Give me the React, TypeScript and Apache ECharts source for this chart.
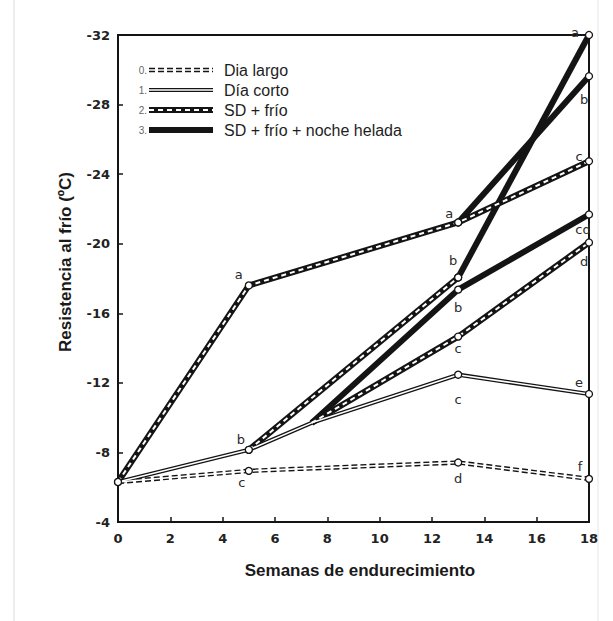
import React, { useEffect, useRef } from "react";
import * as echarts from "echarts";

// Weeks of hardening and frost resistance (ºC) for each treatment branch.
// null in a letter list = bend in the line without a measured point.
const WEEKS_LARGO = [0, 5, 13, 18];
const LARGO = [-6.3, -6.94, -7.42, -6.48];
const LARGO_LETTERS = ["", "c", "d", "f"];

const WEEKS_CORTO = [0, 5, 7.4, 13, 18];
const CORTO = [-6.3, -8.15, -9.7, -12.47, -11.36];
const CORTO_LETTERS = ["", "b", null, "c", "e"];

const WEEKS_FRIO_0 = [0, 5, 13, 18];
const FRIO_0 = [-6.3, -17.6, -21.22, -24.74];
const FRIO_0_LETTERS = ["", "a", "a", "c"];

const WEEKS_FRIO_5 = [5, 13];
const FRIO_5 = [-8.15, -18.06];
const FRIO_5_LETTERS = ["", "b"];

const WEEKS_FRIO_7 = [7.4, 13, 18];
const FRIO_7 = [-9.7, -14.66, -20.07];
const FRIO_7_LETTERS = [null, "c", "d"];

const WEEKS_HELADA_7 = [7.4, 13, 18];
const HELADA_7 = [-9.7, -17.36, -21.68];
const HELADA_7_LETTERS = [null, "b", "cd"];

const WEEKS_HELADA_13A = [13, 18];
const HELADA_13A = [-21.22, -29.63];
const HELADA_13A_LETTERS = ["", "b"];

const WEEKS_HELADA_13B = [13, 18];
const HELADA_13B = [-18.06, -32];
const HELADA_13B_LETTERS = ["", "a"];

const LEGEND_NUMBERS = ["0.", "1.", "2.", "3."];
const LEGEND_NAMES = ["Dia largo", "Día corto", "SD + frío", "SD + frío + noche helada"];

const X_NAME = "Semanas de endurecimiento";
const Y_NAME = "Resistencia al frío (ºC)";

type Kind = "largo" | "corto" | "frio" | "helada";

const LINES: { key: string; kind: Kind; weeks: number[]; values: number[]; letters: (string | null)[] }[] = [
  { key: "largo", kind: "largo", weeks: WEEKS_LARGO, values: LARGO, letters: LARGO_LETTERS },
  { key: "corto", kind: "corto", weeks: WEEKS_CORTO, values: CORTO, letters: CORTO_LETTERS },
  { key: "frio0", kind: "frio", weeks: WEEKS_FRIO_0, values: FRIO_0, letters: FRIO_0_LETTERS },
  { key: "frio5", kind: "frio", weeks: WEEKS_FRIO_5, values: FRIO_5, letters: FRIO_5_LETTERS },
  { key: "frio7", kind: "frio", weeks: WEEKS_FRIO_7, values: FRIO_7, letters: FRIO_7_LETTERS },
  { key: "helada7", kind: "helada", weeks: WEEKS_HELADA_7, values: HELADA_7, letters: HELADA_7_LETTERS },
  { key: "helada13a", kind: "helada", weeks: WEEKS_HELADA_13A, values: HELADA_13A, letters: HELADA_13A_LETTERS },
  { key: "helada13b", kind: "helada", weeks: WEEKS_HELADA_13B, values: HELADA_13B, letters: HELADA_13B_LETTERS },
];

// Where each letter sits relative to its point (px).
const LETTER_OFFSETS: Record<string, [number, number]> = {
  "largo-1": [-7, 12],
  "largo-2": [0, 16],
  "largo-3": [-9, -12],
  "corto-1": [-8, -10],
  "corto-3": [0, 25],
  "corto-4": [-10, -11],
  "frio0-1": [-10, -11],
  "frio0-2": [-9, -9],
  "frio0-3": [-10, -5],
  "frio5-1": [-5, -17],
  "frio7-1": [0, 12],
  "frio7-2": [-5, 19],
  "helada7-1": [0, 18],
  "helada7-2": [-6, 15],
  "helada13a-1": [-5, 23],
  "helada13b-1": [-14, -3],
};

const INK = "#141414";

// Each line kind is a black stroke, optionally with a white stroke on top
// (giving the double line / dashed-core looks).
const KIND_STYLES: Record<Kind, { base: any; overlay: any | null }> = {
  largo: {
    base: { color: INK, width: 4.4, type: [6, 3] },
    overlay: { color: "#fff", width: 1.6, type: "solid" },
  },
  corto: {
    base: { color: INK, width: 4.2, type: "solid" },
    overlay: { color: "#fff", width: 1.6, type: "solid" },
  },
  frio: {
    base: { color: INK, width: 6, type: "solid" },
    overlay: { color: "#fff", width: 2, type: [5, 4] },
  },
  helada: {
    base: { color: INK, width: 6, type: "solid" },
    overlay: null,
  },
};

const LEGEND_KINDS: Kind[] = ["largo", "corto", "frio", "helada"];

function buildOption() {
  const series: any[] = [];
  LINES.forEach((ln) => {
    const data = ln.weeks.map((w, i) => [w, ln.values[i]]);
    const st = KIND_STYLES[ln.kind];
    series.push({
      type: "line",
      data,
      symbol: "none",
      silent: true,
      z: ln.kind === "helada" ? 3 : 2,
      lineStyle: { ...st.base, cap: "butt", join: "round" },
    });
    if (st.overlay) {
      series.push({
        type: "line",
        data,
        symbol: "none",
        silent: true,
        z: 4,
        lineStyle: { ...st.overlay, cap: "butt", join: "round" },
      });
    }
  });

  // Measured points, with their significance letters.
  const points: any[] = [];
  LINES.forEach((ln) => {
    ln.letters.forEach((letter, i) => {
      if (letter === null) return;
      const off = LETTER_OFFSETS[`${ln.key}-${i}`] || [0, 0];
      points.push({
        value: [ln.weeks[i], ln.values[i]],
        label: {
          show: letter !== "",
          formatter: letter,
          offset: off,
        },
      });
    });
  });
  series.push({
    type: "scatter",
    data: points,
    symbol: "circle",
    symbolSize: 7,
    clip: false,
    silent: true,
    z: 6,
    itemStyle: { color: "#fff", borderColor: INK, borderWidth: 1.3, opacity: 1 },
    label: {
      position: "inside",
      align: "center",
      verticalAlign: "middle",
      color: "#2a2a2a",
      fontSize: 13,
      fontFamily: "DejaVu Sans",
    },
  });

  // Legend drawn as sample strokes plus text.
  const legendEls: any[] = [];
  const rowY = [70, 90, 110, 130];
  LEGEND_KINDS.forEach((kind, i) => {
    const st = KIND_STYLES[kind];
    const y = rowY[i];
    legendEls.push({
      type: "text",
      x: 147,
      y,
      style: {
        text: LEGEND_NUMBERS[i],
        textAlign: "right",
        textVerticalAlign: "middle",
        font: '10px "Liberation Sans"',
        fill: "#666",
      },
    });
    const toDash = (t: any) => (Array.isArray(t) ? t : null);
    legendEls.push({
      type: "line",
      shape: { x1: 149, y1: y, x2: 213, y2: y },
      style: { stroke: st.base.color, lineWidth: st.base.width, lineDash: toDash(st.base.type) },
    });
    if (st.overlay) {
      legendEls.push({
        type: "line",
        shape: { x1: 149, y1: y, x2: 213, y2: y },
        style: { stroke: st.overlay.color, lineWidth: st.overlay.width, lineDash: toDash(st.overlay.type) },
      });
    }
    legendEls.push({
      type: "text",
      x: 224,
      y,
      style: {
        text: LEGEND_NAMES[i],
        textAlign: "left",
        textVerticalAlign: "middle",
        font: '16px "Liberation Sans"',
        fill: "#1e1e1e",
      },
    });
  });

  const axisFont = { fontSize: 13, fontWeight: "bold" as const, color: "#222", fontFamily: "DejaVu Sans" };

  return {
    animation: false,
    backgroundColor: "#fff",
    grid: {
      left: 118,
      right: 24,
      top: 35,
      bottom: 99,
      show: true,
      borderColor: INK,
      borderWidth: 2,
      backgroundColor: "transparent",
    },
    xAxis: {
      type: "value",
      min: 0,
      max: 18,
      interval: 2,
      axisLine: { show: true, lineStyle: { color: INK, width: 2 } },
      axisTick: { show: true, inside: true, length: 5, lineStyle: { color: INK, width: 1.5 } },
      splitLine: { show: false },
      axisLabel: { ...axisFont, margin: 10 },
    },
    yAxis: {
      type: "value",
      inverse: true,
      min: -32,
      max: -4,
      interval: 4,
      axisLine: { show: true, lineStyle: { color: INK, width: 2 } },
      axisTick: { show: true, inside: true, length: 5, lineStyle: { color: INK, width: 1.5 } },
      splitLine: { show: false },
      axisLabel: { ...axisFont, margin: 8 },
    },
    series,
    graphic: [
      {
        type: "line",
        shape: { x1: 14, y1: 0, x2: 14, y2: 621 },
        style: { stroke: "#dcdcdc", lineWidth: 1 },
        silent: true,
      },
      {
        type: "line",
        shape: { x1: 598, y1: 0, x2: 598, y2: 621 },
        style: { stroke: "#e6e6e6", lineWidth: 1 },
        silent: true,
      },
      {
        type: "text",
        x: 360,
        y: 570,
        style: {
          text: X_NAME,
          textAlign: "center",
          textVerticalAlign: "middle",
          font: 'bold 17px "Liberation Sans"',
          fill: "#1a1a1a",
        },
      },
      {
        type: "text",
        x: 65,
        y: 262,
        rotation: Math.PI / 2,
        style: {
          text: Y_NAME,
          textAlign: "center",
          textVerticalAlign: "middle",
          font: 'bold 17px "Liberation Sans"',
          fill: "#1a1a1a",
        },
      },
      ...legendEls,
    ],
  };
}

export default function App() {
  const ref = useRef<HTMLDivElement>(null);
  useEffect(() => {
    if (!ref.current) return;
    const chart = echarts.init(ref.current, null, { renderer: "svg" });
    chart.setOption(buildOption() as any);
    return () => chart.dispose();
  }, []);
  return (
    <div
      ref={ref}
      style={{ position: "fixed", left: 0, top: 0, width: 613, height: 621, background: "#fff" }}
    />
  );
}
